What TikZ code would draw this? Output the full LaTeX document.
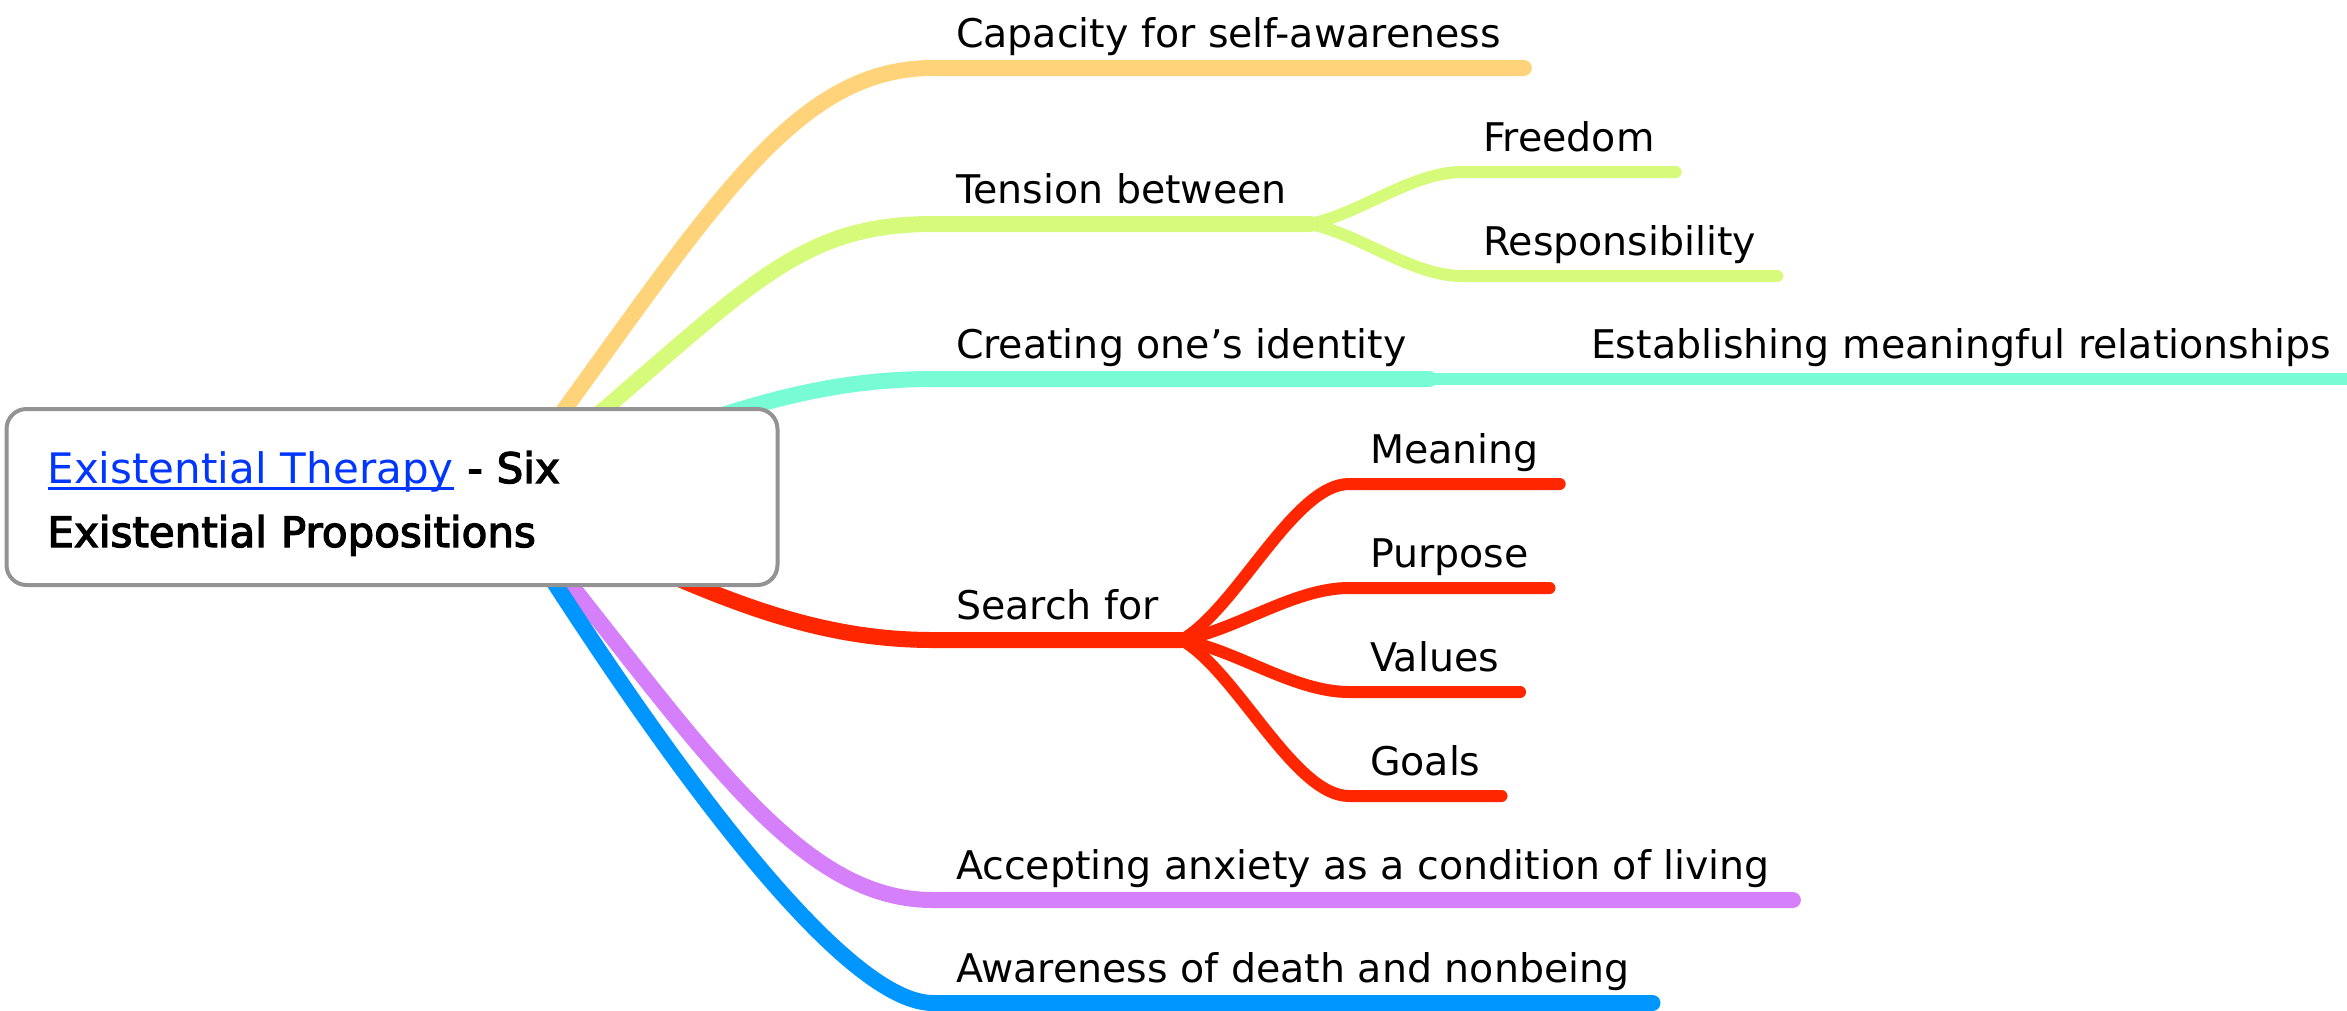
\documentclass[tikz,border=0pt]{standalone}
\usepackage{fontspec}
\setmainfont{DejaVu Sans}
\newfontfamily\heavyfont[FakeBold=3]{DejaVu Sans}
\usetikzlibrary{calc}

\definecolor{capcol}{HTML}{FFD37A}
\definecolor{tencol}{HTML}{D6FA7A}
\definecolor{crecol}{HTML}{78FCD6}
\definecolor{seacol}{HTML}{FF2600}
\definecolor{acccol}{HTML}{D580FA}
\definecolor{awacol}{HTML}{0096FF}
\definecolor{linkcol}{HTML}{0036FF}
\definecolor{framecol}{HTML}{939393}

\newlength\linkwd
\newcommand\linktext[1]{\settowidth{\linkwd}{#1}\rlap{\rule[-7pt]{\linkwd}{3pt}}#1}

\tikzset{
  root/.style={draw=framecol,line width=4pt,fill=white,rounded corners=20pt,
    minimum width=771pt,minimum height=176pt,inner xsep=41pt,text width=689pt,
    align=left,text height=39pt,text depth=67pt,font=\fontsize{42}{64}\selectfont},
  topic/.style={anchor=south west,inner xsep=23pt,inner ysep=21pt,outer sep=0pt,
    text depth=0pt,font=\fontsize{39.5}{48}\selectfont},
  subtopic/.style={topic,inner xsep=21pt},
  branch/.style={line width=16pt,line cap=round},
  twig/.style={line width=12pt,line cap=round}
}

\begin{document}
\begin{tikzpicture}[x=1pt,y=-1pt]
\useasboundingbox (0,0) rectangle (2347,1010);

\coordinate (hub) at (500,497);

% first level
\node[topic] (cap) at (933,68) {Capacity for self-awareness};
\node[topic] (ten) at (933,224) {Tension between};
\node[topic] (cre) at (933,379) {Creating one’s identity};
\node[topic] (sea) at (933,640) {Search for};
\node[topic] (acc) at (933,900) {Accepting anxiety as a condition of living};
\node[topic] (awa) at (933,1003) {Awareness of death and nonbeing};

\draw[branch,capcol] (hub) .. controls (700,230) and ($(cap.south west)+(-150,0)$) .. (cap.south west) -- (cap.south east);
\draw[branch,tencol] (hub) .. controls (740,301) and ($(ten.south west)+(-150,0)$) .. (ten.south west) -- (ten.south east);
\draw[branch,crecol] (hub) .. controls (700,420) and ($(cre.south west)+(-133,0)$) .. (cre.south west) -- (cre.south east);
\draw[branch,seacol] (hub) .. controls (680,580) and ($(sea.south west)+(-143,0)$) .. (sea.south west) -- (sea.south east);
\draw[branch,acccol] (hub) .. controls (692,730) and ($(acc.south west)+(-143,0)$) .. (acc.south west) -- (acc.south east);
\draw[branch,awacol] (hub) .. controls (620,690) and ($(awa.south west)+(-103,0)$) .. (awa.south west) -- (awa.south east);

% second level
\node[subtopic] (fre) at (1462,172) {Freedom};
\node[subtopic] (res) at (1462,276) {Responsibility};
\node[subtopic] (est) at (1570,379) {Establishing meaningful relationships};

\draw[twig,tencol] (ten.south east) .. controls ($(ten.south east)+(50,-10)$) and ($(fre.south west)+(-50,0)$) .. (fre.south west) -- (fre.south east);
\draw[twig,tencol] (ten.south east) .. controls ($(ten.south east)+(50,10)$) and ($(res.south west)+(-50,0)$) .. (res.south west) -- (res.south east);
\draw[twig,crecol] (cre.south east) -- (est.south west) -- (est.south east);

\foreach \n/\t/\y/\d in {mea/Meaning/484/-31,pur/Purpose/588/-10,val/Values/692/10,goa/Goals/796/31}{
  \node[subtopic] (\n) at (1349,\y) {\t};
  \draw[twig,seacol] (sea.south east) .. controls ($(sea.south east)+(55,\d)$) and ($(\n.south west)+(-55,0)$) .. (\n.south west) -- (\n.south east);
}

% central topic
\node[root] (root) at (392,497) {{\color{linkcol}\linktext{Existential Therapy}} {\heavyfont - Six}\\
  {\heavyfont Existential Propositions}};

\end{tikzpicture}
\end{document}
